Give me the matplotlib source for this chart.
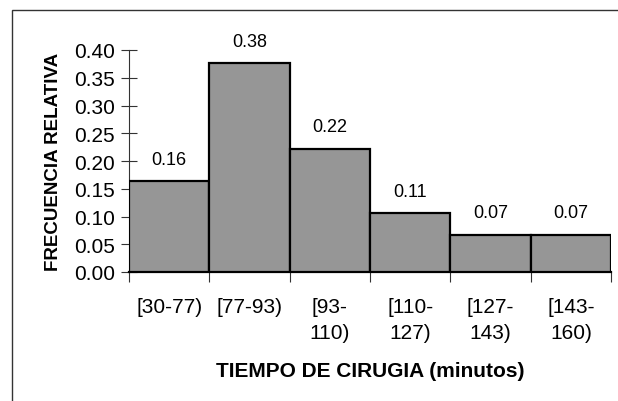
import numpy as np
import matplotlib
matplotlib.use('Agg')
import matplotlib.pyplot as plt
from matplotlib.patches import Rectangle

plt.rcParams['font.family'] = ['Liberation Sans', 'DejaVu Sans']

# data
intervalos = ['[30-77)', '[77-93)', '[93-\n110)', '[110-\n127)', '[127-\n143)', '[143-\n160)']
frecuencia = [0.164, 0.376, 0.222, 0.106, 0.067, 0.067]
etiquetas = ['0.16', '0.38', '0.22', '0.11', '0.07', '0.07']
yticks = [0.00, 0.05, 0.10, 0.15, 0.20, 0.25, 0.30, 0.35, 0.40]

fig = plt.figure(figsize=(6.18, 4.02), dpi=100)
fig.patch.set_facecolor('white')

# outer chart border (cut by the image on the right and bottom)
fig.patches.append(Rectangle((12 / 618, -0.1), 1.2, 0.1 + (402 - 11) / 402,
                             transform=fig.transFigure, fill=False,
                             edgecolor='#333333', linewidth=1.0, clip_on=False))

ax = fig.add_axes([129 / 618, (402 - 273) / 402, (611 - 129) / 618, (273 - 51) / 402])

x = np.arange(len(frecuencia))
bars = ax.bar(x + 0.5, frecuencia, width=1.0, color='#969696',
              edgecolor='black', linewidth=1.6, zorder=3)

for xi, h, lab in zip(x, frecuencia, etiquetas):
    ax.text(xi + 0.5, h + 0.024, lab, ha='center', va='bottom', fontsize=13)

ax.set_xlim(0, len(frecuencia))
ax.set_ylim(0, 0.40)
ax.set_yticks(yticks)
ax.set_yticklabels([f'{v:.2f}' for v in yticks], fontsize=15)

ax.set_xticks(np.arange(len(frecuencia) + 1))
ax.set_xticklabels([])
ax.set_xticks(x + 0.5, minor=True)
ax.set_xticklabels(intervalos, minor=True, fontsize=15, linespacing=1.45)

ax.tick_params(axis='y', direction='inout', length=12, width=0.8, pad=4, color='#333333')
ax.tick_params(axis='x', which='major', direction='out', length=7, width=0.8, color='#333333')
ax.tick_params(axis='x', which='minor', length=0, pad=18)

ax.spines['top'].set_visible(False)
ax.spines['right'].set_visible(False)
ax.spines['left'].set_color('#333333')
ax.spines['left'].set_linewidth(0.8)
ax.spines['bottom'].set_color('black')
ax.spines['bottom'].set_linewidth(1.6)

ax.set_xlabel('TIEMPO DE CIRUGIA (minutos)', fontsize=15, fontweight='bold', labelpad=14)
ax.set_ylabel('FRECUENCIA RELATIVA', fontsize=13.5, fontweight='bold', labelpad=9)

fig.savefig('out.png', dpi=100)
